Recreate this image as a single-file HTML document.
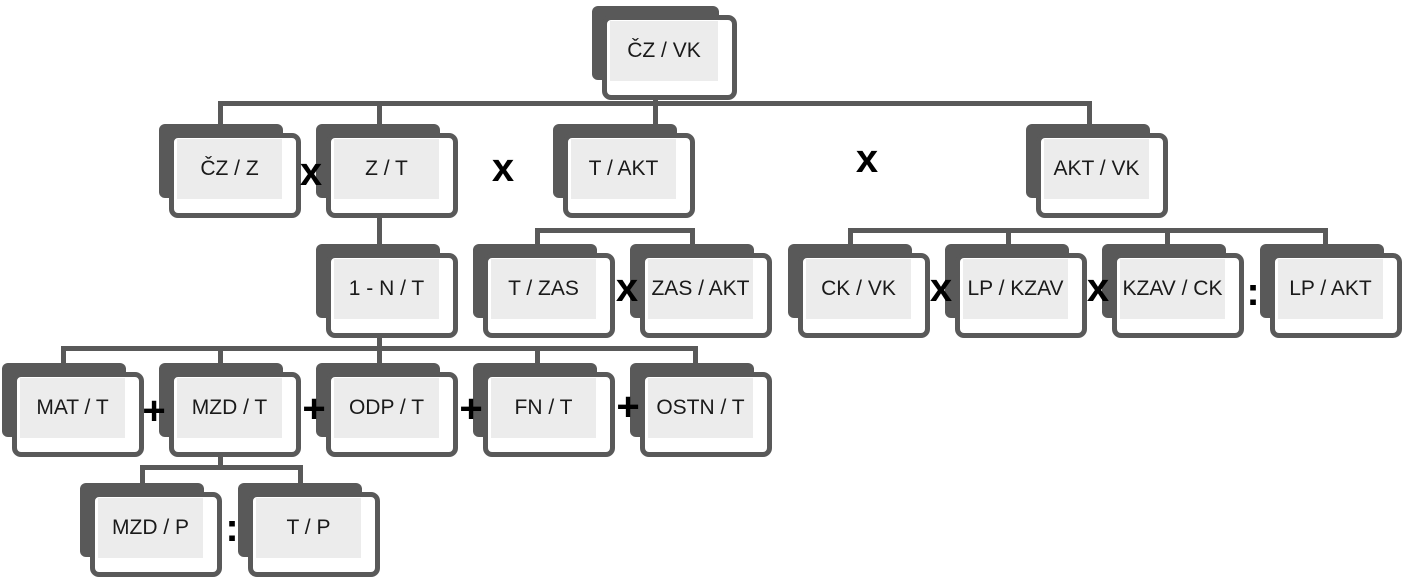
<!DOCTYPE html>
<html><head><meta charset="utf-8"><style>
body{margin:0;width:1409px;height:585px;background:#fff;position:relative;overflow:hidden;font-family:"Liberation Sans Narrow","Liberation Sans",sans-serif}
.n{position:absolute;width:142px;height:94px}
.b{position:absolute;left:0;top:0;width:124px;height:74px;background:#595959;border-radius:6px}
.f{position:absolute;left:10px;top:9px;width:132px;height:85px;box-sizing:border-box;border:5px solid #595959;border-radius:9px;background:#fff}
.i{position:absolute;left:3px;top:1px;right:14px;bottom:14px;background:#ececec;display:flex;align-items:center;justify-content:center;font-size:21px;color:#1a1a1a;white-space:nowrap}
.l{position:absolute;background:#595959}
.o{position:absolute;font-family:"Liberation Sans",sans-serif;font-weight:bold;color:#000;font-size:40px;line-height:40px;transform:translate(-50%,-50%)}
</style></head><body>
<!-- connectors -->
<div class="l" style="left:218px;top:101px;width:874px;height:5px"></div>
<div class="l" style="left:218px;top:101px;width:5px;height:24px"></div>
<div class="l" style="left:377px;top:101px;width:5px;height:24px"></div>
<div class="l" style="left:653px;top:95px;width:5px;height:30px"></div>
<div class="l" style="left:1087px;top:101px;width:5px;height:24px"></div>
<div class="l" style="left:535px;top:228px;width:160px;height:5px"></div>
<div class="l" style="left:535px;top:228px;width:5px;height:16px"></div>
<div class="l" style="left:690px;top:228px;width:5px;height:16px"></div>
<div class="l" style="left:377px;top:215px;width:5px;height:30px"></div>
<div class="l" style="left:848px;top:228px;width:480px;height:5px"></div>
<div class="l" style="left:848px;top:228px;width:5px;height:16px"></div>
<div class="l" style="left:1006px;top:228px;width:5px;height:16px"></div>
<div class="l" style="left:1165px;top:228px;width:5px;height:16px"></div>
<div class="l" style="left:1323px;top:228px;width:5px;height:16px"></div>
<div class="l" style="left:61px;top:346px;width:637px;height:5px"></div>
<div class="l" style="left:61px;top:346px;width:5px;height:17px"></div>
<div class="l" style="left:218px;top:346px;width:5px;height:17px"></div>
<div class="l" style="left:377px;top:335px;width:5px;height:28px"></div>
<div class="l" style="left:535px;top:346px;width:5px;height:17px"></div>
<div class="l" style="left:693px;top:346px;width:5px;height:17px"></div>
<div class="l" style="left:140px;top:465px;width:163px;height:5px"></div>
<div class="l" style="left:140px;top:465px;width:5px;height:18px"></div>
<div class="l" style="left:218px;top:455px;width:5px;height:12px"></div>
<div class="l" style="left:298px;top:465px;width:5px;height:18px"></div>

<!-- nodes -->
<div class="n" style="left:592px;top:6px;width:145px"><div class="b" style="width:127px"></div><div class="f" style="width:135px"><div class="i">ČZ / VK</div></div></div>
<div class="n" style="left:159px;top:124px"><div class="b"></div><div class="f"><div class="i">ČZ / Z</div></div></div>
<div class="n" style="left:316px;top:124px"><div class="b"></div><div class="f"><div class="i">Z / T</div></div></div>
<div class="n" style="left:553px;top:124px"><div class="b"></div><div class="f"><div class="i">T / AKT</div></div></div>
<div class="n" style="left:1026px;top:124px"><div class="b"></div><div class="f"><div class="i">AKT / VK</div></div></div>
<div class="n" style="left:316px;top:244px"><div class="b"></div><div class="f"><div class="i">1 - N / T</div></div></div>
<div class="n" style="left:473px;top:244px"><div class="b"></div><div class="f"><div class="i">T / ZAS</div></div></div>
<div class="n" style="left:630px;top:244px"><div class="b"></div><div class="f"><div class="i">ZAS / AKT</div></div></div>
<div class="n" style="left:788px;top:244px"><div class="b"></div><div class="f"><div class="i">CK / VK</div></div></div>
<div class="n" style="left:945px;top:244px"><div class="b"></div><div class="f"><div class="i">LP / KZAV</div></div></div>
<div class="n" style="left:1102px;top:244px"><div class="b"></div><div class="f"><div class="i">KZAV / CK</div></div></div>
<div class="n" style="left:1260px;top:244px"><div class="b"></div><div class="f"><div class="i">LP / AKT</div></div></div>
<div class="n" style="left:2px;top:363px"><div class="b"></div><div class="f"><div class="i">MAT / T</div></div></div>
<div class="n" style="left:159px;top:363px"><div class="b"></div><div class="f"><div class="i">MZD / T</div></div></div>
<div class="n" style="left:316px;top:363px"><div class="b"></div><div class="f"><div class="i">ODP / T</div></div></div>
<div class="n" style="left:473px;top:363px"><div class="b"></div><div class="f"><div class="i">FN / T</div></div></div>
<div class="n" style="left:630px;top:363px"><div class="b"></div><div class="f"><div class="i">OSTN / T</div></div></div>
<div class="n" style="left:80px;top:483px"><div class="b"></div><div class="f"><div class="i">MZD / P</div></div></div>
<div class="n" style="left:238px;top:483px"><div class="b"></div><div class="f"><div class="i">T / P</div></div></div>

<!-- operators -->
<div class="o" style="left:311px;top:172px">x</div>
<div class="o" style="left:503px;top:168px">x</div>
<div class="o" style="left:867px;top:159px">x</div>
<div class="o" style="left:627px;top:288px">x</div>
<div class="o" style="left:941px;top:288px">x</div>
<div class="o" style="left:1098px;top:288px">x</div>
<div class="o" style="left:1253px;top:292px">:</div>
<div class="o" style="left:154px;top:411px">+</div>
<div class="o" style="left:314px;top:409px">+</div>
<div class="o" style="left:471px;top:409px">+</div>
<div class="o" style="left:628px;top:407px">+</div>
<div class="o" style="left:232px;top:528px">:</div>
</body></html>
